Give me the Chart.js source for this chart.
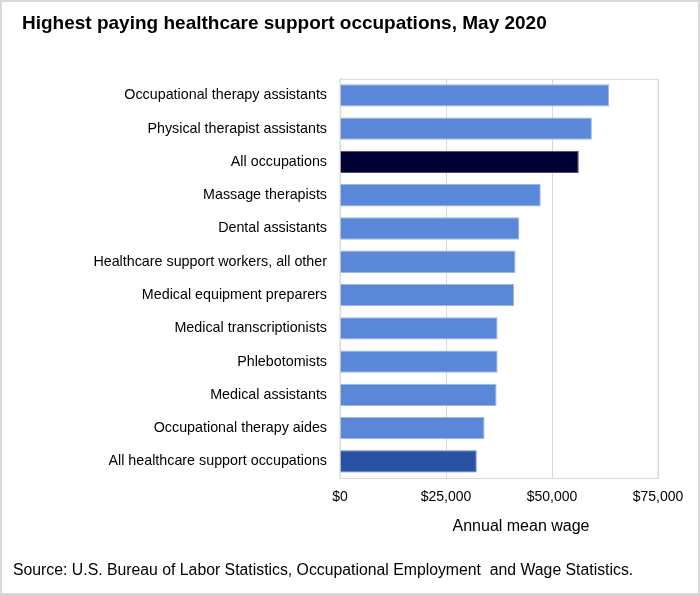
<!DOCTYPE html>
<html>
<head>
<meta charset="utf-8">
<script src="https://cdn.jsdelivr.net/npm/chart.js@4.4.0/dist/chart.umd.min.js"></script>
<style>
  html, body { margin: 0; padding: 0; background: #fff; }
  #wrap { position: relative; width: 700px; height: 595px; box-sizing: border-box; border: 2px solid #d9d9d9; }
  #chart { position: absolute; left: -2px; top: -2px; }
</style>
</head>
<body>
<div id="wrap"><canvas id="chart" width="700" height="595"></canvas></div>
<script>
var occupations = [
  'Occupational therapy assistants',
  'Physical therapist assistants',
  'All occupations',
  'Massage therapists',
  'Dental assistants',
  'Healthcare support workers, all other',
  'Medical equipment preparers',
  'Medical transcriptionists',
  'Phlebotomists',
  'Medical assistants',
  'Occupational therapy aides',
  'All healthcare support occupations'
];
var meanWage = [63440, 59410, 56310, 47350, 42310, 41400, 41090, 37170, 37180, 36930, 34100, 32250];
var xTicks = [0, 25000, 50000, 75000];

var barColors = occupations.map(function(name) {
  if (name === 'All occupations') return '#000033';
  if (name === 'All healthcare support occupations') return '#2952a2';
  return '#5b87d8';
});
var edgeColors = occupations.map(function(name) {
  if (name === 'All occupations') return '#4b4b72';
  if (name === 'All healthcare support occupations') return '#5b7cc0';
  return '#9db6ea';
});

var FONT = '"Liberation Sans", Arial, sans-serif';

// frame, axis title and source note
var extras = {
  id: 'extras',
  beforeDatasetsDraw: function(chart) {
    var a = chart.chartArea, ctx = chart.ctx;
    ctx.save();
    ctx.strokeStyle = '#d9d9d9';
    ctx.lineWidth = 1;
    ctx.strokeRect(a.left, a.top + 0.5, a.right - a.left, a.bottom - a.top);
    ctx.restore();
  },
  afterDraw: function(chart) {
    var ctx = chart.ctx;
    ctx.save();
    ctx.fillStyle = '#000';
    ctx.textBaseline = 'middle';
    ctx.font = '16px ' + FONT;
    ctx.textAlign = 'center';
    ctx.fillText('Annual mean wage', 521, 527);
    ctx.textAlign = 'left';
    ctx.font = '15.8px ' + FONT;
    ctx.fillText('Source: U.S. Bureau of Labor Statistics, Occupational Employment  and Wage Statistics.', 13, 571);
    ctx.restore();
  }
};

var Cnvs = document.getElementById('chart');
var wageChart = new Chart(Cnvs, {
  type: 'bar',
  data: {
    labels: occupations,
    datasets: [{
      data: meanWage,
      backgroundColor: barColors,
      borderColor: edgeColors,
      borderWidth: 1,
      barPercentage: 0.67,
      categoryPercentage: 1
    }]
  },
  options: {
    indexAxis: 'y',
    responsive: false,
    animation: false,
    layout: { padding: { left: 22, right: 42, top: 0, bottom: 57 } },
    plugins: {
      legend: { display: false },
      tooltip: { enabled: false },
      title: {
        display: true,
        text: 'Highest paying healthcare support occupations, May 2020',
        align: 'start',
        color: '#000',
        font: { family: FONT, size: 19, weight: 'bold' },
        padding: { top: 12, bottom: 44 }
      }
    },
    scales: {
      x: {
        min: 0,
        max: 75000,
        afterBuildTicks: function(scale) {
          scale.ticks = xTicks.map(function(v) { return { value: v }; });
        },
        afterFit: function(scale) { scale.height = 60; },
        grid: { color: '#d9d9d9', drawTicks: false },
        border: { display: true, color: '#d9d9d9' },
        ticks: {
          color: '#000',
          padding: 11,
          maxRotation: 0,
          font: { family: FONT, size: 14 },
          callback: function(v) { return '$' + Number(v).toLocaleString('en-US'); }
        }
      },
      y: {
        afterFit: function(scale) { scale.width = 318; },
        grid: { display: false, drawTicks: false },
        border: { display: true, color: '#d9d9d9' },
        ticks: {
          color: '#000',
          padding: 13,
          autoSkip: false,
          font: { family: FONT, size: 14.3 }
        }
      }
    }
  },
  plugins: [extras]
});
</script>
</body>
</html>
